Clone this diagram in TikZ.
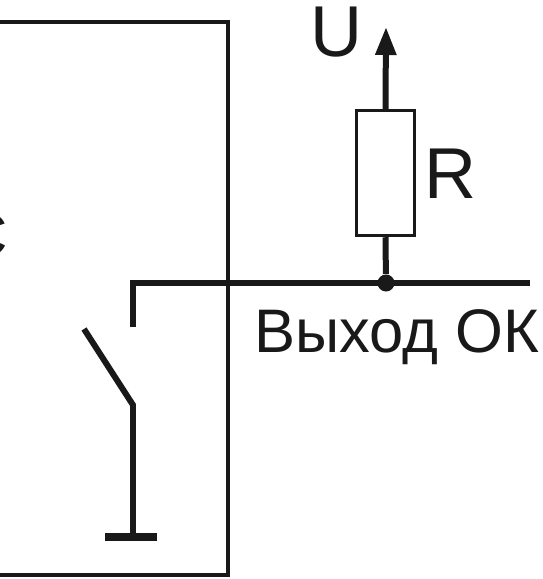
\documentclass[tikz,border=0pt]{standalone}
\usepackage{fontspec}
\setmainfont{Liberation Sans}
\usetikzlibrary{arrows.meta}
\tikzset{
    thinwire/.style={line width=0.07cm, black!90},
    wire/.style={line width=0.12cm, black!90},
    resbox/.style={draw=black!90, line width=0.07cm, minimum width=1.16cm, minimum height=2.5cm, inner sep=0pt},
    lbl/.style={inner sep=0pt, black!90, font=\fontsize{35}{35}\selectfont},
    biglbl/.style={inner sep=0pt, black!90, font=\fontsize{41}{41}\selectfont},
}
\begin{document}
\begin{tikzpicture}[x=0.02cm, y=-0.02cm]
    \useasboundingbox (0,0) rectangle (542,579);
    \coordinate (b1) at (-5,22); \coordinate (b2) at (228,22);
    \coordinate (b3) at (228,575); \coordinate (b4) at (-5,575);
    \draw[thinwire] (b1)--(b2)--(b3)--(b4);
    \node[resbox] (res) at (385.5,173) {};
    \coordinate (top) at (386,27);
    \node[circle, fill=black!90, inner sep=0pt, minimum size=0.34cm] (dot) at (386,283) {};
    \draw[wire, -{Triangle[length=0.56cm, width=0.4cm]}] (res.north) -- (top);
    \draw[wire] (res.south) -- (dot);
    \coordinate (w1) at (133,327); \coordinate (w2) at (133,283); \coordinate (w3) at (530,283);
    \draw[wire] (w1)--(w2)--(w3);
    \coordinate (s1) at (84,329); \coordinate (s2) at (133,405); \coordinate (s3) at (133,537);
    \draw[wire] (s1)--(s2)--(s3);
    \coordinate (g1) at (105,537); \coordinate (g2) at (157,537);
    \draw[line width=0.15cm, black!90] (g1)--(g2);
    \node[biglbl, anchor=base] (u) at (337,56) {U};
    \node[biglbl, anchor=base] (r) at (451,198) {R};
    \node[lbl, anchor=base west] (out) at (254,352) {Выход ОК};
    \node[lbl, anchor=base east] (c) at (8,256) {C};
\end{tikzpicture}
\end{document}
